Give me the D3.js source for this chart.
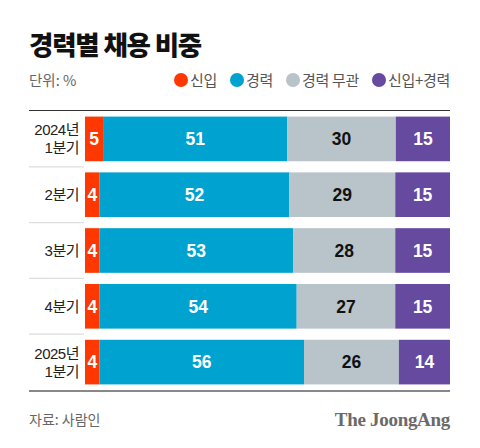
<!DOCTYPE html>
<html><head><meta charset="utf-8">
<script src="https://cdn.jsdelivr.net/npm/d3@7"></script>
<style>body{margin:0;background:#fff}svg{display:block}</style>
</head><body>
<svg id="c" width="480" height="448"></svg>
<script>
const categories = [["2024년","1분기"],["2분기"],["3분기"],["4분기"],["2025년","1분기"]];
const seriesNames = ["신입","경력","경력 무관","신입+경력"];
const newcomer = [5,4,4,4,4];
const experienced = [51,52,53,54,56];
const irrelevant = [30,29,28,27,26];
const both = [15,15,15,15,14];
const colors = ["#ff3700","#00a3d0","#b8c3ca","#654a9f"];
const labelColors = ["#fff","#fff","#111","#fff"];

const series = [newcomer, experienced, irrelevant, both];
const kr = "'Noto Sans CJK KR','Noto Sans',sans-serif";
const mix = "'Liberation Sans','Noto Sans CJK KR',sans-serif";
const num = "'Liberation Sans',Arial,sans-serif";
const svg = d3.select("#c");

const left = 85, right = 450, lineL = 29;
const y = d3.scaleBand().domain(d3.range(categories.length)).range([111, 390]).paddingInner(0.2).paddingOuter(0.1);

// title
svg.append("text").attr("x",29).attr("y",55).attr("font-family",kr).attr("font-weight",900)
  .attr("font-size",26.5).attr("letter-spacing",-1.2).attr("fill","#111").text("경력별 채용 비중");
svg.append("text").attr("x",29).attr("y",86).attr("font-family",kr).attr("font-size",14.5)
  .attr("fill","#666").text("단위: %");

// legend
const legX = [181, 237, 293, 379];
seriesNames.forEach((n,i)=>{
  svg.append("circle").attr("cx",legX[i]).attr("cy",80).attr("r",7).attr("fill",colors[i]);
  svg.append("text").attr("x",legX[i]+9).attr("y",86).attr("font-family",kr).attr("font-size",15)
    .attr("letter-spacing",-0.3).attr("fill","#555").text(n);
});

svg.append("line").attr("x1",lineL).attr("x2",right).attr("y1",110.5).attr("y2",110.5)
  .attr("stroke","#333").attr("stroke-width",1);

categories.forEach((cat,r)=>{
  const total = d3.sum(series, s=>s[r]);
  const x = d3.scaleLinear().domain([0,total]).range([left,right]);
  let acc = 0;
  const y0 = y(r), h = y.bandwidth(), cy = y0 + h/2;
  series.forEach((s,i)=>{
    const v = s[r];
    const x0 = x(acc), x1 = x(acc+v);
    svg.append("rect").attr("x",x0).attr("y",y0).attr("width",x1-x0).attr("height",h).attr("fill",colors[i]);
    svg.append("text").attr("x",(x0+x1)/2).attr("y",cy+6.3).attr("text-anchor","middle")
      .attr("font-family",num).attr("font-weight",700).attr("font-size",17.5).attr("fill",labelColors[i]).text(v);
    acc += v;
  });
  // row labels
  const lh = 18;
  const t = svg.append("text").attr("text-anchor","end").attr("font-family",mix).attr("font-size",15)
    .attr("letter-spacing",-0.5).attr("fill","#222");
  cat.forEach((s,k)=>{
    t.append("tspan").attr("x",79).attr("y",cy + 5.5 + (k-(cat.length-1)/2)*lh).text(s);
  });
  if (r < categories.length-1) {
    const sy = y0 + h + (y.step()-h)/2;
    svg.append("line").attr("x1",lineL).attr("x2",left-1).attr("y1",sy).attr("y2",sy)
      .attr("stroke","#ddd").attr("stroke-width",1.2);
  }
});

svg.append("line").attr("x1",lineL).attr("x2",right).attr("y1",391).attr("y2",391)
  .attr("stroke","#888").attr("stroke-width",2);

svg.append("text").attr("x",29).attr("y",425).attr("font-family",kr).attr("font-size",14)
  .attr("fill","#666").text("자료: 사람인");
svg.append("text").attr("x",450).attr("y",426).attr("text-anchor","end")
  .attr("font-family","'Liberation Serif','DejaVu Serif',serif").attr("font-weight",700)
  .attr("font-size",19).attr("fill","#6a6a6a").attr("letter-spacing",-0.3).text("The JoongAng");
</script>
</body></html>
